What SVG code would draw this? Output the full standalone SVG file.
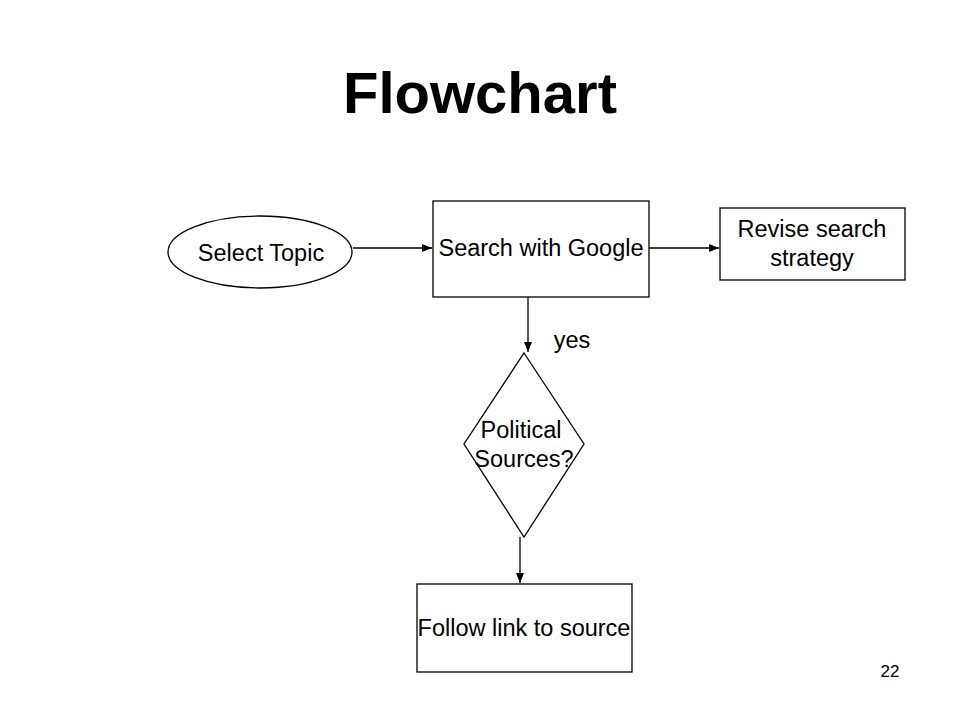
<svg xmlns="http://www.w3.org/2000/svg" width="960" height="720" viewBox="0 0 960 720">
<style>
.s{fill:#fff;stroke:#000;stroke-width:1.3}
.t{font-family:"Liberation Sans",Arial,sans-serif;font-size:23.5px;fill:#000;text-anchor:middle}
.c{fill:none;stroke:#000;stroke-width:1.3;marker-end:url(#a)}
</style>
<defs>
<marker id="a" viewBox="0 0 10 8" refX="10" refY="4" markerWidth="10" markerHeight="8" markerUnits="userSpaceOnUse" orient="auto">
<path d="M0,0L10,4L0,8z" fill="#000"/>
</marker>
</defs>
<rect width="960" height="720" fill="#fff"/>
<text x="480" y="113" style="font-family:'Liberation Sans',Arial,sans-serif;font-size:58px;font-weight:bold;text-anchor:middle">Flowchart</text>
<g id="connectors">
<line class="c" x1="353" y1="248" x2="432" y2="248"/>
<line class="c" x1="649" y1="248" x2="719" y2="248"/>
<line class="c" x1="528" y1="297" x2="528" y2="352"/>
<line class="c" x1="520" y1="537" x2="520" y2="583"/>
</g>
<g id="select-topic">
<ellipse class="s" cx="260" cy="252" rx="92" ry="36"/>
<text class="t" x="261" y="261">Select Topic</text>
</g>
<g id="search-google">
<rect class="s" x="433" y="201" width="216" height="96"/>
<text class="t" x="541" y="256">Search with Google</text>
</g>
<g id="revise">
<rect class="s" x="720" y="208" width="185" height="72"/>
<text class="t" x="812" y="237">Revise search</text>
<text class="t" x="812" y="266">strategy</text>
</g>
<g id="political">
<polygon class="s" points="524,353 584,444 524,537 464,444"/>
<text class="t" x="521" y="438">Political</text>
<text class="t" x="524" y="467">Sources?</text>
</g>
<text class="t" x="572" y="348">yes</text>
<g id="follow">
<rect class="s" x="417" y="584" width="215" height="88"/>
<text class="t" x="524" y="636">Follow link to source</text>
</g>
<text x="890" y="677" style="font-family:'Liberation Sans',Arial,sans-serif;font-size:17px;text-anchor:middle">22</text>
</svg>
